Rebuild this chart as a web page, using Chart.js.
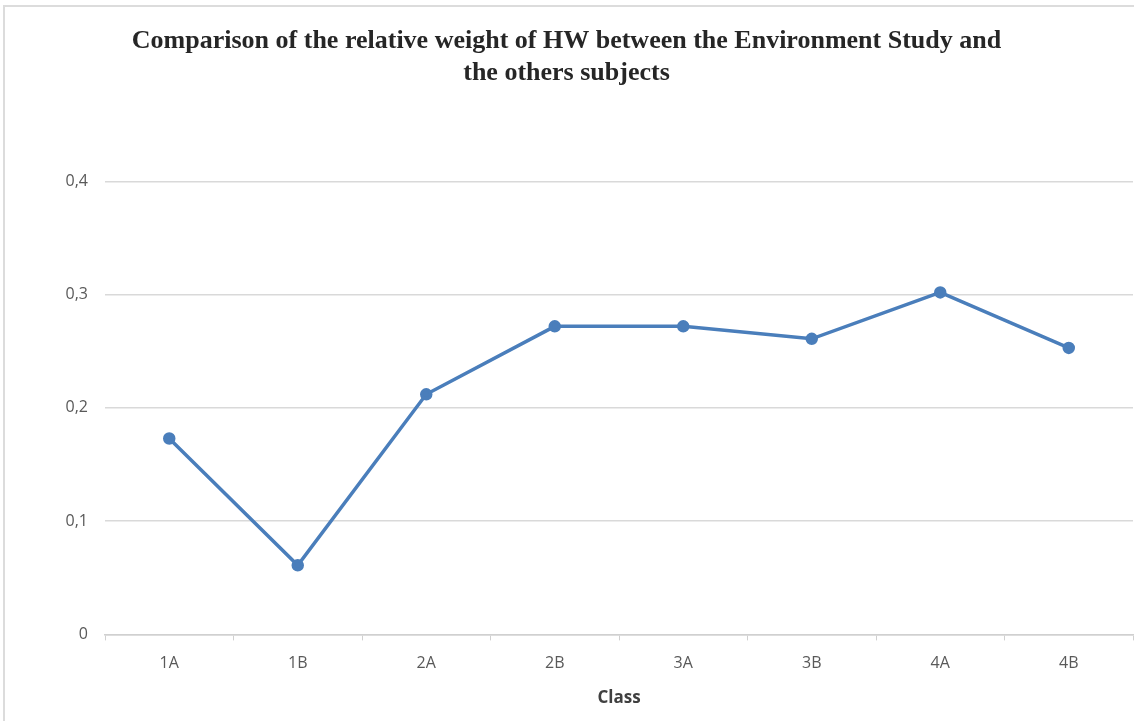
<!DOCTYPE html>
<html>
<head>
<meta charset="utf-8">
<script src="https://cdn.jsdelivr.net/npm/chart.js@4/dist/chart.umd.min.js"></script>
<style>
  html, body { margin: 0; padding: 0; background: #fff; }
  #wrap { position: relative; width: 1134px; height: 721px; overflow: hidden; }
  #frame { position: absolute; left: 3px; top: 5px; width: 1140px; height: 730px;
           border-left: 2px solid #dcdcdc; border-top: 2px solid #dcdcdc; }
  canvas { position: absolute; left: 0; top: 0; }
</style>
</head>
<body>
<div id="wrap">
  <div id="frame"></div>
  <canvas id="chart-line" width="1148" height="721"></canvas>
</div>
<script>
// Relative weight of HW, Environment Study vs other subjects
const classes = ['1A', '1B', '2A', '2B', '3A', '3B', '4A', '4B'];
const relWeight = [0.173, 0.061, 0.212, 0.272, 0.272, 0.261, 0.302, 0.253];
const yTickLabels = ['0', '0,1', '0,2', '0,3', '0,4'];

const tickFont = { family: "'Open Sans', sans-serif", size: 16 };

const ctx = document.getElementById('chart-line').getContext('2d');
new Chart(ctx, {
  type: 'line',
  data: {
    labels: classes,
    datasets: [{
      data: relWeight,
      borderColor: '#4a7ebb',
      backgroundColor: '#4a7ebb',
      borderWidth: 3.5,
      pointRadius: 4.5,
      pointBackgroundColor: '#4a7ebb',
      pointBorderColor: '#4a7ebb',
      tension: 0
    }]
  },
  options: {
    responsive: false,
    animation: false,
    layout: { padding: { left: 0, right: 15, top: 0, bottom: 13 } },
    scales: {
      x: {
        offset: true,
        grid: { offset: true, drawOnChartArea: false, drawTicks: true, tickLength: 6, color: '#d0d0d0' },
        border: { display: true, color: '#d0d0d0', width: 1.5 },
        ticks: { color: '#595959', font: tickFont, padding: 13, maxRotation: 0 },
        title: {
          display: true, text: 'Class', color: '#404040',
          font: { family: "'Open Sans', sans-serif", size: 17, weight: 'bold' },
          padding: { top: 2, bottom: 0 }
        },
        afterFit: (scale) => { scale.paddingLeft = 0; scale.paddingRight = 0; }
      },
      y: {
        min: 0,
        max: 0.4,
        ticks: {
          stepSize: 0.1, color: '#595959', font: tickFont, padding: 17,
          callback: (v, i) => yTickLabels[i]
        },
        grid: { color: '#d9d9d9', lineWidth: 1.5, drawTicks: false },
        border: { display: false },
        afterFit: (scale) => { scale.width = 105; }
      }
    },
    plugins: {
      legend: { display: false },
      tooltip: { enabled: false },
      title: {
        display: true,
        text: ['Comparison of the relative weight of HW between the Environment Study and', 'the others subjects'],
        color: '#262626',
        font: { family: "'Liberation Serif', serif", size: 26, weight: 'bold', lineHeight: 1.2 },
        padding: { top: 26, bottom: 93 }
      }
    }
  }
});
</script>
</body>
</html>
